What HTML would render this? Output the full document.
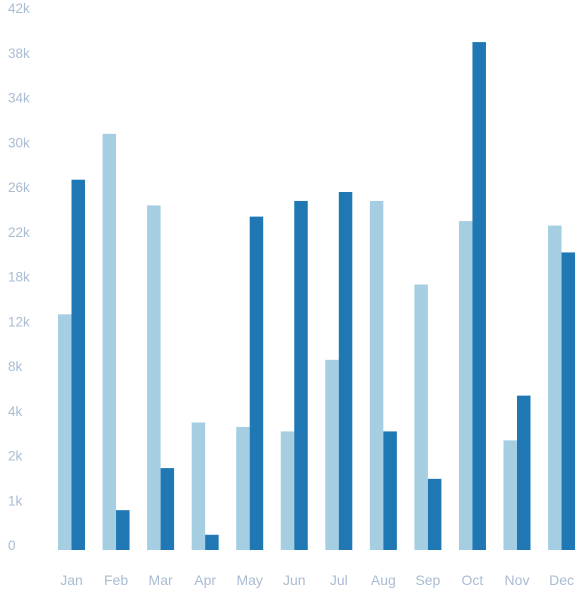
<!DOCTYPE html>
<html><head><meta charset="utf-8"><style>
body{margin:0;background:#fff;}
svg{display:block;font-family:"Liberation Sans",sans-serif;}
</style></head><body>
<svg id="chart" width="581" height="589"></svg>
<script>
const months=["Jan","Feb","Mar","Apr","May","Jun","Jul","Aug","Sep","Oct","Nov","Dec"];
const series1=[13.6,31.2,24.8,3.7,3.5,3.3,9,25.2,17.6,23.4,2.9,23];
const series2=[27.1,0.89,1.83,0.34,23.8,25.2,26,3.3,1.59,39.4,5.8,20.6];
const tickLabels=["0","1k","2k","4k","8k","12k","18k","22k","26k","30k","34k","38k","42k"];
const ticks=[0,1,2,4,8,12,18,22,26,30,34,38,42];
const svg=document.getElementById('chart');
const NS='http://www.w3.org/2000/svg';
const y0=550, step=44.75;
function yScale(v){
  for(let i=0;i<ticks.length-1;i++){
    if(v<=ticks[i+1]){return y0-(i+(v-ticks[i])/(ticks[i+1]-ticks[i]))*step;}
  }
  return y0-(ticks.length-1)*step;
}
function xScale(i){return 58+i*44.55;}
function mk(t,a){const e=document.createElementNS(NS,t);for(const k in a)e.setAttribute(k,a[k]);svg.appendChild(e);return e;}
ticks.forEach((t,i)=>{
  const e=mk('text',{x:8,y:yScale(t),fill:'#a9bcd3','font-size':13.5});
  e.textContent=tickLabels[i];
  
  
});
months.forEach((m,i)=>{
  const x=xScale(i),w=13.5;
  const a=mk('rect',{x:x,y:yScale(series1[i]),width:w,height:y0-yScale(series1[i]),fill:'#a6cee3'});
  
  
  const b=mk('rect',{x:x+w,y:yScale(series2[i]),width:w,height:y0-yScale(series2[i]),fill:'#1f78b4'});
  
  
  const t=mk('text',{x:x+w,y:585,fill:'#a9bcd3','font-size':14,'text-anchor':'middle'});
  t.textContent=m;
  
  
});
</script>
</body></html>
